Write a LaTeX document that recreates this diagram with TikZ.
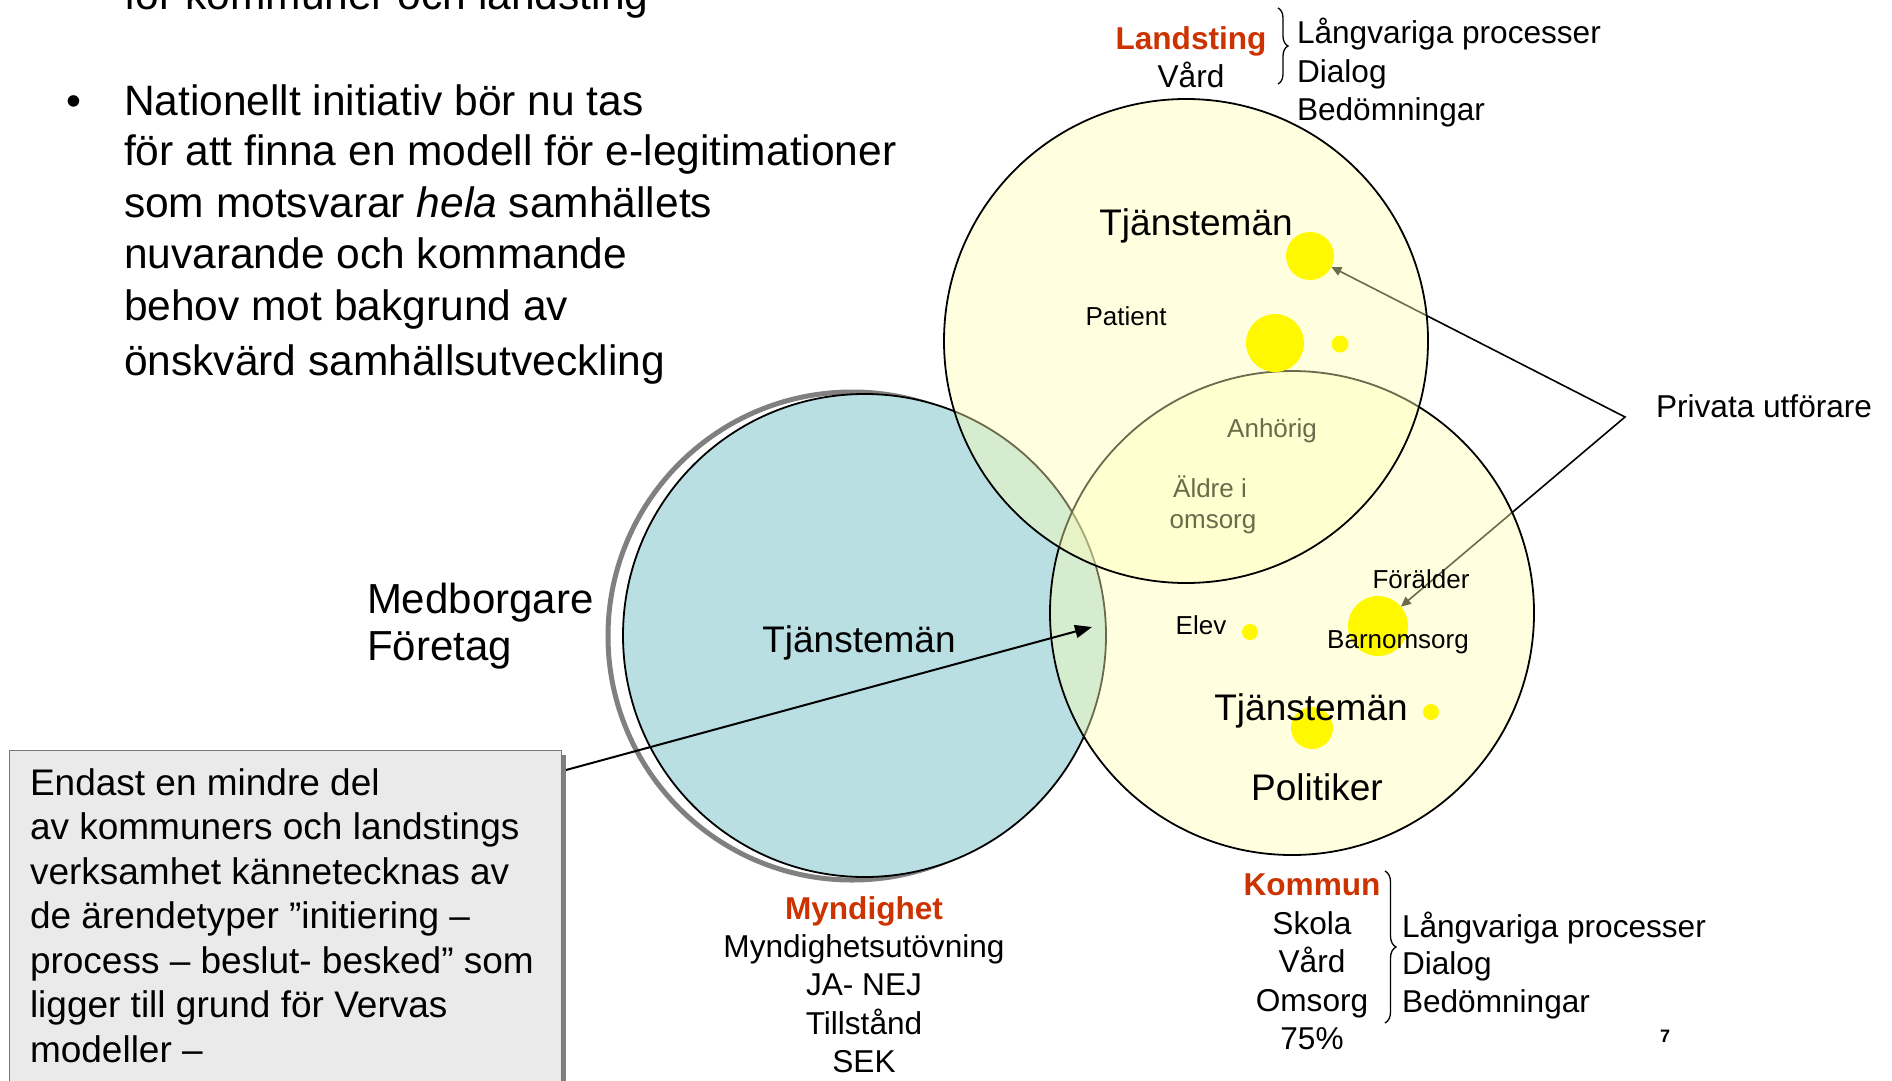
\documentclass[tikz,border=0pt]{standalone}
\usepackage{fontspec}
\setmainfont{Liberation Sans}
\usetikzlibrary{arrows.meta,decorations.pathreplacing,shadows}
\definecolor{bluefill}{RGB}{185,223,226}
\definecolor{yfill}{RGB}{255,255,182}
\definecolor{dotyellow}{RGB}{255,248,0}
\definecolor{shadowgray}{RGB}{128,128,128}
\definecolor{boxfill}{RGB}{234,234,234}
\definecolor{boxborder}{RGB}{120,120,120}
\definecolor{redtxt}{RGB}{204,51,0}
\pgfdeclarelayer{bg}
\pgfdeclarelayer{arr}
\pgfdeclarelayer{kom}
\pgfdeclarelayer{komtext}
\pgfdeclarelayer{lan}
\pgfsetlayers{bg,arr,kom,komtext,lan,main}
\begin{document}
\begin{tikzpicture}[x=1pt,y=-1pt,
  every node/.style={inner sep=0pt, outer sep=0pt},
  txt/.style={font=\fontsize{42.5}{51}\selectfont, anchor=base west},
  boxtxt/.style={font=\fontsize{37}{44}\selectfont, anchor=base west},
  big/.style={font=\fontsize{37}{44}\selectfont, anchor=base},
  small/.style={font=\fontsize{26}{31}\selectfont, anchor=base},
  mid/.style={font=\fontsize{31.6}{38}\selectfont, anchor=base},
  midb/.style={font=\fontsize{31.6}{38}\selectfont\bfseries, anchor=base, text=redtxt},
  ycirc/.style={circle, draw=black, line width=1.8pt, fill=yfill, fill opacity=0.42, minimum size=484pt},
  ydot/.style={circle, fill=dotyellow, minimum size=#1},
  bracestyle/.style={decorate, decoration={brace, amplitude=#1}, line width=1.3pt},
]
\useasboundingbox (0,0) rectangle (1892,1081);

% bullet text
\node[txt] (b0) at (124,10) {för kommuner och landsting};
\node[txt] (bul) at (66,115) {•};
\node[txt] (b1) at (124,115) {Nationellt initiativ bör nu tas};
\node[txt] (b2) at (124,165) {för att finna en modell för e-legitimationer};
\node[txt] (b3) at (124,217) {som motsvarar \textit{hela} samhällets};
\node[txt] (b4) at (124,268) {nuvarande och kommande};
\node[txt] (b5) at (124,320) {behov mot bakgrund av};
\node[txt] (b6) at (124,375) {önskvärd samhällsutveckling};

\node[txt, font=\fontsize{42}{50}\selectfont] (med) at (367,613) {Medborgare};
\node[txt, font=\fontsize{42}{50}\selectfont] (ftg) at (367,660) {Företag};

% circles
\begin{pgfonlayer}{bg}
  \node[circle, draw=shadowgray, line width=5pt, minimum size=488pt] (mynshadow) at (852,636) {};
  \node[circle, draw=black, line width=1.8pt, fill=bluefill, minimum size=483pt] (myn) at (864.5,635.5) {};
\end{pgfonlayer}
\begin{pgfonlayer}{kom}
  \node[ycirc] (kom) at (1292,613) {};
\end{pgfonlayer}
\begin{pgfonlayer}{komtext}
  \node[small] (anh) at (1272,437) {Anhörig};
  \node[small] (aldre) at (1210,497) {Äldre i};
  \node[small] (omsorg) at (1213,528) {omsorg};
\end{pgfonlayer}
\begin{pgfonlayer}{lan}
  \node[ycirc] (lan) at (1186,341) {};
\end{pgfonlayer}

% dots
\node[ydot=48pt] (dA) at (1310,256) {};
\node[ydot=58pt] (dB) at (1275,343) {};
\node[ydot=17pt] (dC) at (1340,344) {};
\node[ydot=16pt] (dE) at (1250,632) {};
\node[ydot=60pt] (dF) at (1378,626) {};
\node[ydot=16pt] (dG) at (1431,712) {};
\node[ydot=42pt] (dH) at (1312,728) {};

% texts in circles
\node[big] (tjl) at (1196,235) {Tjänstemän};
\node[small] (pat) at (1126,325) {Patient};
\node[big] (tjm) at (859,652) {Tjänstemän};
\node[small] (for) at (1421,588) {Förälder};
\node[small] (barn) at (1398,648) {Barnomsorg};
\node[small] (elev) at (1201,634) {Elev};
\node[big] (tjk) at (1311,720) {Tjänstemän};
\node[big] (pol) at (1317,800) {Politiker};

% Privata utförare
\node[mid, anchor=base west] (priv) at (1656,417) {Privata utförare};
\coordinate (pv) at ([xshift=-31pt]priv.base west);
\begin{pgfonlayer}{arr}
  \draw[line width=1.6pt, {Triangle[length=10pt,width=9pt]}-{Triangle[length=10pt,width=9pt]}] (dA) -- (pv) -- (dF);
\end{pgfonlayer}

% box
\node[draw=boxborder, line width=1pt, fill=boxfill, minimum width=552pt, minimum height=380pt, anchor=north west,
      drop shadow={shadow xshift=5pt, shadow yshift=-5pt, fill=shadowgray, opacity=1}] (box) at (9,750) {};
\foreach \k/\boxline in {0/Endast en mindre del,
  1/av kommuners och landstings,
  2/verksamhet kännetecknas av,
  3/de ärendetyper ”initiering –,
  4/process – beslut- besked” som,
  5/ligger till grund för Vervas,
  6/modeller –}
  \node[boxtxt] (bt\k) at ({30},{795+44.5*\k}) {\boxline};
\coordinate (myntip) at (1092,627);
\draw[line width=2pt, -{Triangle[length=17pt,width=13pt]}] ([shift={(5,20)}]box.north east) -- (myntip);

% Myndighet block
\node[midb] (mynh) at (864,919) {Myndighet};
\node[mid] (myn1) at (864,957) {Myndighetsutövning};
\node[mid] (myn2) at (864,995) {JA- NEJ};
\node[mid] (myn3) at (864,1034) {Tillstånd};
\node[mid] (myn4) at (864,1072) {SEK};

% Kommun block
\node[midb] (komh) at (1312,895) {Kommun};
\node[mid] (kom1) at (1312,934) {Skola};
\node[mid] (kom2) at (1312,972) {Vård};
\node[mid] (kom3) at (1312,1011) {Omsorg};
\node[mid] (kom4) at (1312,1049) {75\%};
\draw[bracestyle=11pt] (1385,871) -- (1385,1023);
\node[mid, anchor=base west] (kr1) at (1402,937) {Långvariga processer};
\node[mid, anchor=base west] (kr2) at (1402,974) {Dialog};
\node[mid, anchor=base west] (kr3) at (1402,1012) {Bedömningar};

% Landsting block
\node[midb] (lanh) at (1191,50) {Landsting};
\node[mid] (lan1) at (1191,88) {Vård};
\draw[bracestyle=10pt] (1278,8) -- (1278,84);
\node[mid, anchor=base west] (lr1) at (1297,44) {Långvariga processer};
\node[mid, anchor=base west] (lr2) at (1297,82) {Dialog};
\node[mid, anchor=base west] (lr3) at (1297,120) {Bedömningar};

\node[font=\fontsize{18}{20}\selectfont\bfseries, anchor=base] (pg) at (1665,1042) {7};
\end{tikzpicture}
\end{document}
